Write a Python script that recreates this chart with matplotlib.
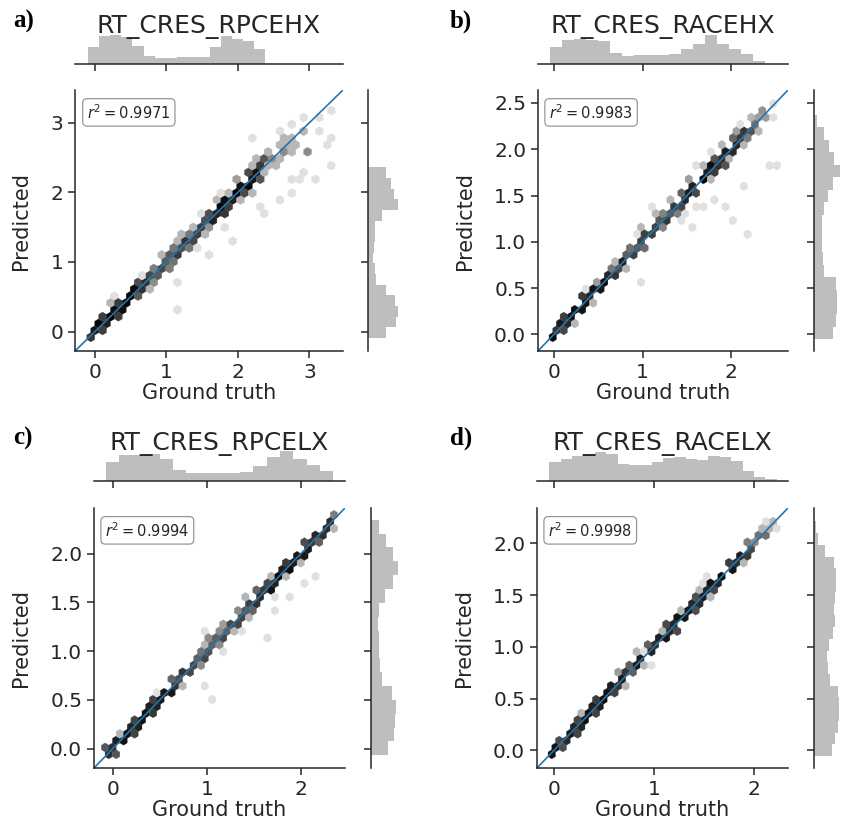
#!/usr/bin/env python3
# Predicted vs ground truth, 4 hexbin joint panels with marginal histograms.

import numpy as np
import matplotlib
matplotlib.use("Agg")
import matplotlib.pyplot as plt
from matplotlib.colors import LinearSegmentedColormap, LogNorm
from matplotlib.ticker import MultipleLocator, NullFormatter

# ── panel a ──
a_title = "RT_CRES_RPCEHX"
a_r2 = "0.9971"
a_lim = (-0.28, 3.47)
a_top = [17, 28, 29, 27, 18, 8, 6, 6, 7, 7, 7, 17, 28, 25, 23, 15]
a_top_range = (-0.094, 2.38)
a_right = [18, 28, 30, 27, 18, 8, 7, 5, 6, 7, 7, 14, 30, 26, 23, 18]
a_right_range = (-0.095, 2.36)
a_diag = [-0.05, 0.0, 0.05, 0.1, 0.15, 0.2, 0.25, 0.3, 0.35, 0.4, 0.45, 0.5,
          0.55, 0.6, 0.65, 0.7, 0.75, 0.8, 0.85, 0.9, 0.95, 1.0, 1.05, 1.1,
          1.15, 1.2, 1.25, 1.3, 1.35, 1.4, 1.45, 1.5, 1.55, 1.6, 1.65, 1.7,
          1.75, 1.8, 1.85, 1.9, 1.95, 2.0, 2.05, 2.1, 2.15, 2.2, 2.25, 2.3, 2.35]
a_resid = [0.04, -0.04, 0.04, -0.04, 0.05, -0.04, 0.04, -0.05, 0.04, -0.04, 0.05, -0.04,
           0.04, -0.04, 0.05, -0.04, 0.04, -0.05, 0.06, -0.06, 0.07, -0.06, 0.08, -0.07,
           0.08, -0.06, 0.08, -0.07, 0.07, -0.06, 0.07, -0.05, 0.05, -0.05, 0.05, -0.05,
           0.06, -0.05, 0.06, -0.06, 0.07, -0.06, 0.07, -0.07, 0.08, -0.07, 0.08, -0.07, 0.08]
a_near_x = [0.05, 0.25, 0.45, 0.62, 0.78, 0.75, 0.95, 1.05, 1.12, 1.2, 1.3, 1.4,
            1.0, 1.1, 1.2, 1.3, 1.4, 1.5, 1.6, 1.75, 1.85, 2.0, 2.2, 1.65, 1.85,
            2.05, 2.2, 2.3, 2.4, 2.5, 2.6, 2.7, 2.8, 2.9, 2.35, 2.45, 2.55, 2.5,
            2.6, 2.7, 2.8, 2.25, 2.4, 2.65, 2.45, 2.6, 2.99, 2.99]
a_near_y = [0.12, 0.38, 0.55, 0.75, 0.9, 0.65, 1.08, 1.2, 1.28, 1.35, 1.42, 1.52,
            0.9, 1.0, 1.1, 1.2, 1.3, 1.38, 1.72, 1.88, 2.0, 2.15, 2.38, 1.55, 1.72,
            1.93, 2.05, 2.15, 2.4, 2.5, 2.6, 2.7, 2.8, 2.9, 2.5, 2.6, 2.7, 2.4,
            2.5, 2.55, 2.65, 2.45, 2.3, 2.75, 2.45, 2.55, 2.63, 2.63]
a_out_x = [1.17, 1.12, 1.93, 1.59, 1.42, 1.80, 2.34, 2.36, 2.62, 2.73, 2.87, 3.09,
           2.73, 2.91, 3.25, 3.25, 3.13, 3.31, 3.31, 3.18, 2.78, 2.92, 2.57, 2.15,
           1.94, 1.80, 1.47, 0.61, 0.26, 1.15]
a_out_y = [0.33, 0.67, 1.29, 1.15, 1.15, 1.51, 1.82, 1.72, 1.87, 1.94, 2.15, 2.20,
           2.20, 2.34, 2.63, 2.80, 2.85, 2.43, 3.13, 3.06, 2.99, 3.04, 2.90, 2.76,
           2.18, 2.03, 1.65, 0.82, 0.55, 1.01]

# ── panel b ──
b_title = "RT_CRES_RACEHX"
b_r2 = "0.9983"
b_lim = (-0.18, 2.64)
b_top = [17, 24, 25, 24, 23, 11, 8, 9, 9, 9, 10, 15, 20, 29, 20, 15, 10, 3]
b_top_range = (-0.045, 2.38)
b_right = [19, 22, 23, 23, 22, 10, 9, 8, 8, 8, 10, 14, 19, 26, 20, 15, 10, 3]
b_right_range = (-0.055, 2.37)
b_diag = [-0.05, 0.0, 0.05, 0.1, 0.15, 0.2, 0.25, 0.3, 0.35, 0.4, 0.45, 0.5,
          0.55, 0.6, 0.65, 0.7, 0.75, 0.8, 0.85, 0.9, 0.95, 1.0, 1.05, 1.1,
          1.15, 1.2, 1.25, 1.3, 1.35, 1.4, 1.45, 1.5, 1.55, 1.6, 1.65, 1.7,
          1.75, 1.8, 1.85, 1.9, 1.95, 2.0, 2.05, 2.1, 2.15, 2.2, 2.25, 2.3, 2.35]
b_resid = [0.04, -0.04, 0.04, -0.04, 0.04, -0.04, 0.04, -0.04, 0.05, -0.04, 0.04, -0.04,
           0.05, -0.04, 0.04, -0.05, 0.04, -0.04, 0.05, -0.04, 0.04, -0.05, 0.05, -0.04,
           0.05, -0.05, 0.06, -0.05, 0.05, -0.06, 0.05, -0.05, 0.06, -0.05, 0.05, -0.06,
           0.05, -0.05, 0.06, -0.05, 0.05, -0.06, 0.05, -0.05, 0.06, -0.05, 0.05, -0.05, 0.04]
b_near_x = [0.1, 0.3, 0.5, 0.7, 0.85, 1.0, 1.15, 1.35, 1.55, 1.7, 1.9, 2.05, 2.2,
            2.35, 0.2, 0.45, 0.8, 1.05, 1.3, 1.45, 1.6, 1.8, 2.0, 2.15, 2.3]
b_near_y = [0.18, 0.4, 0.6, 0.8, 0.97, 1.12, 1.28, 1.47, 1.68, 1.83, 2.02, 2.2, 2.32,
            2.45, 0.12, 0.37, 0.7, 0.95, 1.2, 1.35, 1.5, 1.7, 1.9, 2.05, 2.22]
b_out_x = [0.95, 2.44, 2.47, 2.44, 2.51, 2.19, 2.03, 1.93, 1.83, 2.12, 1.61, 1.67,
           1.42, 1.57, 1.51, 1.50, 1.61, 1.78, 2.06, 2.06, 2.13, 1.12, 0.48, 0.33,
           0.97]
b_out_y = [0.59, 2.49, 2.35, 1.83, 1.83, 1.06, 1.22, 1.38, 1.43, 1.60, 1.38, 1.38,
           1.23, 1.20, 1.31, 1.70, 1.79, 1.97, 2.28, 2.17, 2.17, 1.34, 0.58, 0.46,
           1.09]

# ── panel c ──
c_title = "RT_CRES_RPCELX"
c_r2 = "0.9994"
c_lim = (-0.2, 2.47)
c_top = [19, 26, 26, 27, 22, 11, 8, 8, 8, 8, 9, 15, 24, 30, 22, 16, 10]
c_top_range = (-0.071, 2.347)
c_right = [17, 23, 24, 25, 21, 11, 9, 8, 8, 7, 8, 14, 22, 27, 22, 15, 8]
c_right_range = (-0.07, 2.35)
c_diag = [-0.05, 0.0, 0.05, 0.1, 0.15, 0.2, 0.25, 0.3, 0.35, 0.4, 0.45, 0.5,
          0.55, 0.6, 0.65, 0.7, 0.75, 0.8, 0.85, 0.9, 0.95, 1.0, 1.05, 1.1,
          1.15, 1.2, 1.25, 1.3, 1.35, 1.4, 1.45, 1.5, 1.55, 1.6, 1.65, 1.7,
          1.75, 1.8, 1.85, 1.9, 1.95, 2.0, 2.05, 2.1, 2.15, 2.2, 2.25, 2.3, 2.35]
c_resid = [0.04, -0.04, 0.04, -0.04, 0.04, -0.04, 0.04, -0.04, 0.04, -0.04, 0.04, -0.04,
           0.04, -0.04, 0.04, -0.04, 0.04, -0.04, 0.04, -0.05, 0.05, -0.05, 0.06, -0.05,
           0.05, -0.05, 0.06, -0.05, 0.05, -0.05, 0.06, -0.05, 0.05, -0.05, 0.06, -0.05,
           0.05, -0.05, 0.04, -0.04, 0.04, -0.04, 0.04, -0.04, 0.04, -0.04, 0.04, -0.04, 0.04]
c_near_x = [0.1, 0.35, 0.45, 0.6, 0.75, 0.9, 0.95, 1.05, 1.15, 1.3, 1.4, 1.45,
            1.55, 1.65, 1.7, 1.85, 2.0, 2.1, 2.25, 2.35]
c_near_y = [0.18, 0.45, 0.37, 0.7, 0.68, 1.0, 1.08, 0.97, 1.28, 1.22, 1.52, 1.36,
            1.47, 1.77, 1.62, 1.78, 1.92, 2.02, 2.18, 2.28]
c_out_x = [1.04, 1.01, 1.64, 1.37, 1.73, 2.18, 2.03, 1.74, 1.88, 1.14, 1.21, 1.01,
           0.43, 1.92]
c_out_y = [0.51, 0.67, 1.14, 1.19, 1.40, 1.78, 1.72, 1.56, 1.60, 1.29, 1.02, 1.19,
           0.58, 1.84]

# ── panel d ──
d_title = "RT_CRES_RACELX"
d_r2 = "0.9998"
d_lim = (-0.17, 2.34)
d_top = [19, 22, 25, 27, 29, 27, 17, 16, 16, 19, 23, 24, 22, 21, 25, 24, 20, 10, 4, 2]
d_top_range = (-0.047, 2.227)
d_right = [18, 21, 24, 25, 25, 24, 16, 14, 13, 15, 19, 21, 20, 21, 22, 22, 20, 11, 4, 2]
d_right_range = (-0.055, 2.21)
d_diag = [-0.05, 0.0, 0.05, 0.1, 0.15, 0.2, 0.25, 0.3, 0.35, 0.4, 0.45, 0.5,
          0.55, 0.6, 0.65, 0.7, 0.75, 0.8, 0.85, 0.9, 0.95, 1.0, 1.05, 1.1,
          1.15, 1.2, 1.25, 1.3, 1.35, 1.4, 1.45, 1.5, 1.55, 1.6, 1.65, 1.7,
          1.75, 1.8, 1.85, 1.9, 1.95, 2.0, 2.05, 2.1, 2.15, 2.2]
d_resid = [0.035, -0.035, 0.03, -0.035, 0.035, -0.03, 0.035, -0.035, 0.04, -0.035,
           0.035, -0.03, 0.035, -0.04, 0.035, -0.035, 0.03, -0.035, 0.04, -0.035,
           0.035, -0.03, 0.035, -0.035, 0.04, -0.035, 0.035, -0.03, 0.035, -0.04,
           0.035, -0.035, 0.03, -0.035, 0.04, -0.035, 0.035, -0.03, 0.035, -0.035,
           0.04, -0.035, 0.035, -0.03, 0.035, -0.035]
d_near_x = [0.05, 0.3, 0.55, 0.63, 0.7, 0.85, 0.9, 1.1, 1.3, 1.45, 1.55, 1.75, 1.9, 2.1]
d_near_y = [0.1, 0.36, 0.6, 0.72, 0.64, 0.95, 0.82, 1.16, 1.36, 1.52, 1.5, 1.8, 1.85, 2.15]
d_out_x = [0.64, 0.96, 0.88, 1.49, 1.54]
d_out_y = [0.79, 0.81, 0.97, 1.60, 1.67]

NEAR_COUNT = 2
OUT_COUNT = 1
RESID_SHARE = 0.5

panels = [
    dict(tag="a)", title=a_title, r2=a_r2, lim=a_lim, top=a_top, top_range=a_top_range,
         right=a_right, right_range=a_right_range, diag=a_diag, resid=a_resid,
         near=(a_near_x, a_near_y), out=(a_out_x, a_out_y)),
    dict(tag="b)", title=b_title, r2=b_r2, lim=b_lim, top=b_top, top_range=b_top_range,
         right=b_right, right_range=b_right_range, diag=b_diag, resid=b_resid,
         near=(b_near_x, b_near_y), out=(b_out_x, b_out_y)),
    dict(tag="c)", title=c_title, r2=c_r2, lim=c_lim, top=c_top, top_range=c_top_range,
         right=c_right, right_range=c_right_range, diag=c_diag, resid=c_resid,
         near=(c_near_x, c_near_y), out=(c_out_x, c_out_y)),
    dict(tag="d)", title=d_title, r2=d_r2, lim=d_lim, top=d_top, top_range=d_top_range,
         right=d_right, right_range=d_right_range, diag=d_diag, resid=d_resid,
         near=(d_near_x, d_near_y), out=(d_out_x, d_out_y)),
]

# pixel layout: main x0, x1, y_top, y_bot, marginal baseline, right spine, ytick step
layout = [
    (75, 343, 90, 351, 64, 368, 1.0),
    (538, 788, 90, 351, 64, 814, 0.5),
    (94, 345, 508, 768, 481, 371, 0.5),
    (537, 788, 508, 768, 481, 814, 0.5),
]

W, H = 841, 823
MARG = 40
GREY = "#bebebe"
INK = "#262626"
cmap = LinearSegmentedColormap.from_list("hexgrey", ["#e0e0e0", "#8c8c8c", "#383838", "#000000"])

fig = plt.figure(figsize=(W / 100, H / 100), dpi=100)


def px_axes(x0, x1, ytop, ybot):
    return fig.add_axes([x0 / W, 1 - ybot / H, (x1 - x0) / W, (ybot - ytop) / H])


for p, (x0, x1, yt, yb, base, rsp, ystep) in zip(panels, layout):
    lo, hi = p["lim"]

    # ── joint hexbin ──
    ax = px_axes(x0, x1, yt, yb)
    edges_top = np.linspace(p["top_range"][0], p["top_range"][1], len(p["top"]) + 1)
    diag = np.array(p["diag"])
    idx = np.clip(np.digitize(diag, edges_top) - 1, 0, len(p["top"]) - 1)
    diag_w = np.array(p["top"], dtype=float)[idx]
    nx, ny = p["near"]
    ox, oy = p["out"]
    xs = np.concatenate([diag, diag, nx, ox])
    ys = np.concatenate([diag, diag + np.array(p["resid"]), ny, oy])
    cs = np.concatenate([diag_w, diag_w * RESID_SHARE,
                         [NEAR_COUNT] * len(nx), [OUT_COUNT] * len(ox)])
    ax.hexbin(xs, ys, C=cs, reduce_C_function=np.sum, gridsize=34,
              extent=(lo, hi, lo, hi), cmap=cmap, norm=LogNorm(1, 60),
              linewidths=0.2, edgecolors="face")
    ax.axline((0, 0), slope=1, color="#1f77b4", lw=1.2)
    ax.set_xlim(lo, hi)
    ax.set_ylim(lo, hi)
    ax.xaxis.set_major_locator(MultipleLocator(1.0))
    ax.yaxis.set_major_locator(MultipleLocator(ystep))
    for s in ("top", "right"):
        ax.spines[s].set_visible(False)
    for s in ("left", "bottom"):
        ax.spines[s].set_linewidth(1.1)
        ax.spines[s].set_color(INK)
    ax.tick_params(labelsize=14.5, length=5, width=1.1, color=INK, labelcolor=INK)
    ax.set_xlabel("Ground truth", fontsize=15, color=INK, labelpad=1)
    ax.set_ylabel("Predicted", fontsize=15, color=INK, labelpad=14)
    ax.text(0.045, 0.95, f"$r^2 = {p['r2']}$", transform=ax.transAxes,
            ha="left", va="top", fontsize=10.5, color=INK,
            bbox=dict(boxstyle="round,pad=0.3", fc="white", ec="0.55", lw=0.8))

    # ── top marginal ──
    axt = px_axes(x0, x1, base - MARG, base)
    axt.stairs(p["top"], edges_top, fill=True, color=GREY, lw=0)
    axt.set_xlim(lo, hi)
    axt.set_ylim(0, MARG)
    axt.xaxis.set_major_locator(MultipleLocator(1.0))
    axt.xaxis.set_major_formatter(NullFormatter())
    axt.set_yticks([])
    for s in ("top", "right", "left"):
        axt.spines[s].set_visible(False)
    axt.spines["bottom"].set_linewidth(1.1)
    axt.spines["bottom"].set_color(INK)
    axt.tick_params(length=5, width=1.1, color=INK)
    axt.patch.set_alpha(0)

    # ── right marginal ──
    axr = px_axes(rsp, rsp + MARG, yt, yb)
    edges_r = np.linspace(p["right_range"][0], p["right_range"][1], len(p["right"]) + 1)
    axr.stairs(p["right"], edges_r, fill=True, color=GREY, lw=0, orientation="horizontal")
    axr.set_ylim(lo, hi)
    axr.set_xlim(0, MARG)
    axr.yaxis.set_major_locator(MultipleLocator(ystep))
    axr.yaxis.set_major_formatter(NullFormatter())
    axr.set_xticks([])
    for s in ("top", "right", "bottom"):
        axr.spines[s].set_visible(False)
    axr.spines["left"].set_linewidth(1.1)
    axr.spines["left"].set_color(INK)
    axr.tick_params(length=5, width=1.1, color=INK)
    axr.patch.set_alpha(0)

    # ── titles and panel letters ──
    fig.text((x0 + x1) / 2 / W, 1 - (base - 31) / H, p["title"], ha="center",
             va="baseline", fontsize=18, color=INK)
    lx = 13 if x0 < 400 else 450
    fig.text(lx / W, 1 - (base - 36) / H, p["tag"], ha="left", va="baseline",
             fontsize=18, fontweight="bold", family="Liberation Serif", color="black")

fig.savefig("out.png", dpi=100)
